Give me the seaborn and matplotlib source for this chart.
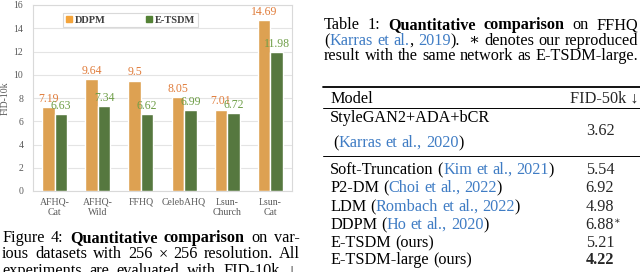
import re
import matplotlib
matplotlib.use("Agg")
import matplotlib.pyplot as plt
from matplotlib.patches import Patch
from matplotlib.lines import Line2D
import seaborn as sns
import pandas as pd

# data
datasets = ["AFHQ-\nCat", "AFHQ-\nWild", "FFHQ", "CelebAHQ", "Lsun-\nChurch", "Lsun-\nCat"]
ddpm = [7.19, 9.64, 9.5, 8.05, 7.01, 14.69]
etsdm = [6.63, 7.34, 6.62, 6.99, 6.72, 11.98]

table_models = ["Soft-Truncation", "P2-DM", "LDM", "DDPM", "E-TSDM (ours)", "E-TSDM-large (ours)"]
table_cites = ["Kim et al., 2021", "Choi et al., 2022", "Rombach et al., 2022", "Ho et al., 2020", None, None]
table_fid = ["5.54", "6.92", "4.98", "6.88", "5.21", "4.22"]

W, H = 640, 272
ORANGE = "#F4A43B"
GREEN = "#548235"
ORANGE_TXT = "#E07B39"
GREEN_TXT = "#6E9E47"
BLUE = "#3F7CC4"
SERIF = ["Liberation Serif", "DejaVu Serif"]
FS = 11.7

sns.set_style("white")
plt.rcParams["font.family"] = SERIF

fig = plt.figure(figsize=(W / 100, H / 100), dpi=100)
ax = fig.add_axes([33 / W, 1 - 191 / H, 259 / W, 186 / H])

df = pd.DataFrame({
    "dataset": datasets * 2,
    "fid": ddpm + etsdm,
    "model": ["DDPM"] * len(datasets) + ["E-TSDM"] * len(datasets),
})
sns.barplot(data=df, x="dataset", y="fid", hue="model", palette=[ORANGE, GREEN],
            width=0.58, gap=0, ax=ax, legend=False, zorder=3)

for cont, vals, col in zip(ax.containers, [ddpm, etsdm], [ORANGE_TXT, GREEN_TXT]):
    ax.bar_label(cont, labels=[f"{v:g}" for v in vals], color=col, fontsize=8.5, padding=1.5)

ax.set_ylim(0, 16)
ax.set_yticks(range(0, 17, 2))
ax.set_xlim(-0.5, len(datasets) - 0.5)
ax.yaxis.grid(True, color="#e4e4e4", lw=0.8, zorder=0)
for s in ax.spines.values():
    s.set_color("#d9d9d9")
    s.set_linewidth(0.8)
ax.tick_params(axis="both", length=0, labelsize=7, labelcolor="#595959")
ax.tick_params(axis="y", pad=7)
ax.tick_params(axis="x", pad=5)
ax.set_xlabel("")
ax.set_ylabel("FID-10k", fontsize=7, color="#595959", labelpad=3)

handles = [Patch(color=ORANGE), Patch(color=GREEN)]
leg = ax.legend(handles, ["DDPM", "E-TSDM"], ncol=2, loc="upper left",
                bbox_to_anchor=(0.0965, 0.903, 0.56, 0.081), mode="expand",
                prop={"family": SERIF, "weight": "bold", "size": 7.5},
                handlelength=0.6, handleheight=0.6, handletextpad=0.3,
                borderpad=0.25, fancybox=False, framealpha=1, edgecolor="#d9d9d9")
leg.get_frame().set_linewidth(0.8)
for t in leg.get_texts():
    t.set_color("#404040")

renderer = fig.canvas.get_renderer()


def ink_w(s, wt="normal", size=FS):
    t = fig.text(0, 0, s, fontsize=size, family=SERIF, fontweight=wt)
    w = t.get_window_extent(renderer).width
    t.remove()
    return w


def adv(s, wt="normal", size=FS):
    # advance width: wrap in bars so side bearings are counted
    return ink_w("|" + s + "|", wt, size) - ink_w("||", wt, size)


def rich(x, y, parts, size=FS, right=None):
    # draw a line of (text, color, weight) runs in pixels; justify to `right` if given
    items = []
    for s, col, wt in parts:
        for piece in re.split("( )", s):
            if piece == " ":
                items.append(None)
            elif piece:
                items.append((piece, col, wt))
    space = adv(" ", size=size)
    widths = [adv(it[0], it[2], size) if it else space for it in items]
    extra = 0
    n_sp = items.count(None)
    if right is not None and n_sp:
        extra = max(0, (right - x - sum(widths)) / n_sp)
    cx = x
    for it, w in zip(items, widths):
        if it is None:
            cx += w + extra
        else:
            fig.text(cx / W, 1 - y / H, it[0], color=it[1], fontweight=it[2], fontsize=size,
                     family=SERIF, va="baseline", ha="left")
            cx += w


K, N, B = "black", "normal", "bold"

# caption under the chart
rich(2, 242, [("Figure 4: ", K, N), ("Quantitative comparison", K, B), (" on var-", K, N)], right=300)
rich(2, 258, [("ious datasets with 256 \u00d7 256 resolution. All", K, N)], right=300)
rich(2, 275, [("experiments are evaluated with FID-10k \u2193.", K, N)], right=300)

# table caption
rich(324, 29, [("Table 1: ", K, N), ("Quantitative comparison", K, B), (" on FFHQ", K, N)], right=638)
rich(324, 45, [("(", K, N), ("Karras et al.", BLUE, N), (", ", K, N), ("2019", BLUE, N),
               (").  \u2217 denotes our reproduced", K, N)], right=638)
rich(324, 60, [("result with the same network as E-TSDM-large.", K, N)], right=638)

# table rules
for yy, lw in [(87, 1.3), (108, 0.7), (156, 0.7)]:
    fig.add_artist(Line2D([323 / W, 1], [1 - yy / H] * 2, color="black", lw=lw))

VX = 600
rich(330, 103, [("Model", K, N)])
fig.text(638 / W, 1 - 103 / H, "FID-50k \u2193", fontsize=FS, family=SERIF,
         va="baseline", ha="right")

rich(330, 122, [("StyleGAN2+ADA+bCR", K, N)])
rich(333, 147, [("(", K, N), ("Karras et al., 2020", BLUE, N), (")", K, N)])
fig.text(VX / W, 1 - 135 / H, "3.62", fontsize=FS, family=SERIF, va="baseline", ha="center")

row_y = [174, 192, 211, 229, 247, 264]
for m, c, v, yy in zip(table_models, table_cites, table_fid, row_y):
    if c:
        rich(330, yy, [(m + " (", K, N), (c, BLUE, N), (")", K, N)])
    else:
        rich(330, yy, [(m, K, N)])
    wt = B if v == "4.22" else N
    t = fig.text(VX / W, 1 - yy / H, v, fontsize=FS, family=SERIF, va="baseline",
                 ha="center", fontweight=wt)
    if m == "DDPM":
        x1 = t.get_window_extent(renderer).x1
        fig.text(x1 / W, 1 - (yy - 5) / H, "\u2217", fontsize=7, family=SERIF, va="baseline")

fig.savefig("out.png", dpi=100)
